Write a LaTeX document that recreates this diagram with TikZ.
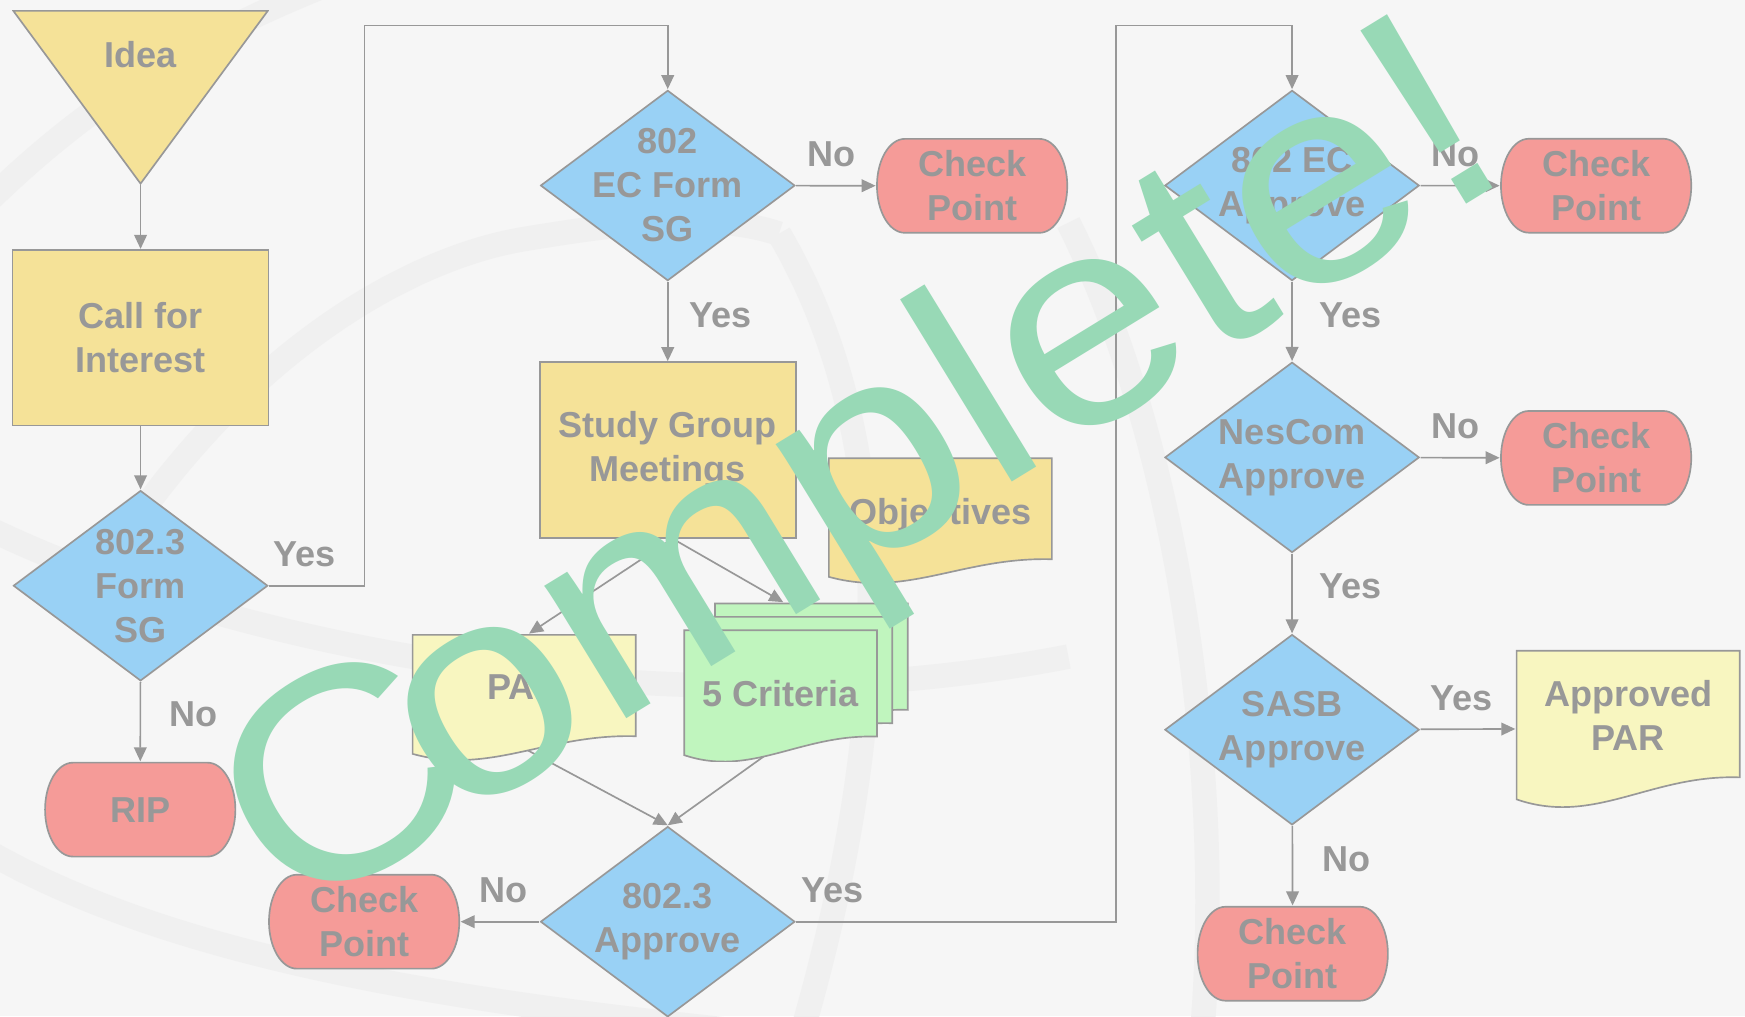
\documentclass[tikz,border=0pt]{standalone}
\usepackage{fontspec}
\setmainfont{Liberation Sans}
\usepackage{tikz}
\usetikzlibrary{arrows.meta, calc, backgrounds}

\definecolor{bggray}{RGB}{246,246,246}
\definecolor{swirl}{RGB}{240,240,240}
\definecolor{linegray}{RGB}{152,152,152}
\definecolor{txtgray}{RGB}{152,152,152}
\definecolor{boxyellow}{RGB}{245,226,152}
\definecolor{docyellow}{RGB}{248,246,192}
\definecolor{decblue}{RGB}{153,209,245}
\definecolor{termred}{RGB}{245,155,152}
\definecolor{critgreen}{RGB}{192,245,190}
\definecolor{markgreen}{RGB}{152,217,182}

\begin{document}
\begin{tikzpicture}[
    x=0.5pt, y=-0.5pt,
    nodetext/.style={font=\bfseries\fontsize{16.2}{19.75}\selectfont, text=txtgray, align=center, inner sep=0pt},
    shapeline/.style={draw=linegray, line width=0.75pt},
    process/.style={nodetext, rectangle, shapeline, fill=boxyellow, minimum width=115pt, minimum height=79pt},
    funnel/.style={nodetext, minimum width=115.3pt, minimum height=78.5pt,
      path picture={\filldraw[shapeline, fill=boxyellow]
        ([xshift=0.5pt, yshift=-0.4pt]path picture bounding box.north west) --
        ([xshift=-0.5pt, yshift=-0.4pt]path picture bounding box.north east) --
        ([yshift=0.5pt]path picture bounding box.south) -- cycle;}},
    decision/.style={nodetext, minimum width=115pt, minimum height=86.2pt,
      path picture={\filldraw[shapeline, fill=decblue]
        ([yshift=-0.5pt]path picture bounding box.north) -- ([xshift=-0.5pt]path picture bounding box.east) --
        ([yshift=0.5pt]path picture bounding box.south) -- ([xshift=0.5pt]path picture bounding box.west) -- cycle;}},
    terminal/.style={nodetext, minimum width=86.3pt, minimum height=43pt,
      path picture={\filldraw[shapeline, fill=termred]
        ([xshift=12.9pt, yshift=-0.4pt]path picture bounding box.north west) --
        ([xshift=-12.9pt, yshift=-0.4pt]path picture bounding box.north east)
        arc[start angle=90, end angle=-90, x radius=12.5pt, y radius=21.1pt] --
        ([xshift=12.9pt, yshift=0.4pt]path picture bounding box.south west)
        arc[start angle=270, end angle=90, x radius=12.5pt, y radius=21.1pt] -- cycle;}},
    document/.style={nodetext,
      path picture={\filldraw[shapeline, fill=#1]
        let \p1=(path picture bounding box.north west), \p2=(path picture bounding box.south east) in
        (\x1+0.4pt,\y1-0.4pt) -- (\x2-0.4pt,\y1-0.4pt) -- (\x2-0.4pt,{\y1+0.81*(\y2-\y1)})
        .. controls ({\x1+0.6*(\x2-\x1)},{\y1+0.79*(\y2-\y1)}) and ({\x1+0.35*(\x2-\x1)},{\y1+1.12*(\y2-\y1)}) ..
        (\x1+0.4pt,{\y1+0.95*(\y2-\y1)}) -- cycle;}},
    lbl/.style={font=\bfseries\fontsize{16.2}{19.75}\selectfont, text=txtgray, inner sep=0pt},
    arrow/.style={shapeline, -{Triangle[length=6.3pt, width=5.7pt]}},
    swirlband/.style={draw=swirl, line width=11pt}
]
\useasboundingbox (0,0) rectangle (1568,913);

% background with faint swirls
\begin{scope}[on background layer]
  \fill[bggray] (0,0) rectangle (1568,913);
  \clip (0,0) rectangle (1568,913);
  \draw[swirlband] (-20,190) .. controls (80,90) and (180,30) .. (310,-20);
  \draw[swirlband] (120,470) .. controls (240,300) and (380,230) .. (470,215) .. controls (560,200) and (640,190) .. (700,210);
  \draw[swirlband] (700,210) .. controls (800,380) and (810,620) .. (720,930);
  \draw[swirlband] (-20,470) .. controls (200,580) and (600,660) .. (960,590);
  \draw[swirlband] (960,200) .. controls (1060,400) and (1100,700) .. (1080,930);
  \draw[swirlband] (-20,760) .. controls (150,860) and (400,900) .. (700,930);
\end{scope}

% Left column
\node[funnel, text depth=39pt] (idea) at (126.3,87.5) {Idea};
\node[process] (call) at (126.3,303.4) {Call for\\Interest};
\node[decision] (formsg) at (126.3,526.3) {802.3\\Form\\SG};
\node[terminal] (rip) at (126,727.5) {RIP};
\coordinate (loopa) at (327.4,23);

% Middle column
\node[decision] (ecform) at (600,166.7) {802\\EC Form\\SG};
\node[terminal] (check1) at (873.5,167) {Check\\Point};
\node[process] (study) at (600,404.3) {Study Group\\Meetings};
\node[document=boxyellow, minimum width=101pt, minimum height=56.5pt, text depth=7.7pt] (objectives) at (845,467.5) {Objectives};
\node[document=docyellow, minimum width=101pt, minimum height=56.7pt, text depth=9.4pt] (par) at (471,626.4) {PAR};
\node[document=critgreen, minimum width=87.4pt, minimum height=59.5pt] (crit3) at (729,601) {};
\node[document=critgreen, minimum width=87.4pt, minimum height=59.5pt] (crit2) at (715.2,613) {};
\node[document=critgreen, minimum width=87.4pt, minimum height=59.5pt, text depth=2pt] (crit) at (701.4,625) {5 Criteria};
\node[decision] (approve) at (600,828.2) {802.3\\Approve};
\node[terminal] (check2) at (327.2,828.2) {Check\\Point};
\coordinate (loopb) at (1002.5,23);

% Right column
\node[decision] (ecapp) at (1161,166.7) {802 EC\\Approve};
\node[terminal] (check3) at (1434.2,166.9) {Check\\Point};
\node[decision] (nescom) at (1161,411) {NesCom\\Approve};
\node[terminal] (check4) at (1434.2,411.5) {Check\\Point};
\node[decision] (sasb) at (1161,655.7) {SASB\\Approve};
\node[document=docyellow, minimum width=101pt, minimum height=70.7pt, text depth=12pt] (apppar) at (1463,654.7) {Approved\\PAR};
\node[terminal] (check5) at (1161.6,857) {Check\\Point};

% Arrow Connections
\draw[arrow] (idea) -- (call);
\draw[arrow] (call) -- (formsg);
\draw[arrow] (formsg.east) -| node[lbl, at start, anchor=south west, xshift=1.8pt, yshift=8pt] {Yes} (loopa) -| (ecform.north);
\draw[arrow] (formsg) -- node[lbl, right=12.5pt, pos=0.41] {No} (rip);
\draw[arrow] (ecform) -- node[lbl, above=8pt, pos=0.44] {No} (check1);
\draw[arrow] (ecform) -- node[lbl, right=9.5pt, pos=0.42] {Yes} (study);
\draw[arrow] ([xshift=2.2pt]study.south) -- ([xshift=2.2pt]par.north);
\draw[arrow] ([xshift=2.2pt]study.south) -- ([xshift=-12.6pt]crit3.north);
\begin{scope}[on background layer]
  \draw[arrow] ([yshift=5.5pt]par.south) -- (approve.north); % runs out from under the page
  \draw[arrow] ([yshift=8pt]crit.south) -- (approve.north);
\end{scope}
\draw[arrow] (approve) -- node[lbl, above=8pt, pos=0.46] {No} (check2);
\draw[arrow] (approve.east) -| node[lbl, at start, anchor=south west, xshift=1.8pt, yshift=8pt] {Yes} (loopb) -| (ecapp.north);
\draw[arrow] (ecapp) -- node[lbl, above=8pt, pos=0.44] {No} (check3);
\draw[arrow] (ecapp) -- node[lbl, right=12pt, pos=0.42] {Yes} (nescom);
\draw[arrow] (nescom) -- node[lbl, above=8pt, pos=0.44] {No} (check4);
\draw[arrow] (nescom) -- node[lbl, right=12pt, pos=0.41] {Yes} (sasb);
\draw[arrow] (sasb) -- node[lbl, above=8pt, pos=0.43] {Yes} (apppar);
\draw[arrow] (sasb) -- node[lbl, right=13pt, pos=0.42] {No} (check5);

% Stamp on top
\node[font=\fontsize{132.5}{132.5}\selectfont, text=markgreen, anchor=base west, rotate=31.5, xscale=1.105, inner sep=0pt] (stamp) at (261.4,830.8) {C\kern-18.46pt omplete!};

\end{tikzpicture}
\end{document}
